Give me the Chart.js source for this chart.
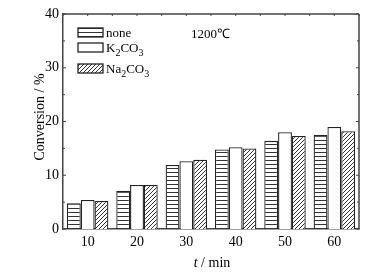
<!DOCTYPE html>
<html>
<head>
<meta charset="utf-8">
<script src="https://cdn.jsdelivr.net/npm/chart.js@4"></script>
<style>
  html, body { margin: 0; padding: 0; background: #fff; }
  #wrap { width: 386px; height: 275px; }
</style>
</head>
<body>
<div id="wrap"><canvas id="g_conv" width="386" height="275"></canvas></div>
<script>
// donnees
const times = ['10', '20', '30', '40', '50', '60'];
const noneVals = [4.8, 7.1, 11.9, 14.8, 16.4, 17.5];
const k2co3Vals = [5.4, 8.2, 12.6, 15.2, 18.0, 19.0];
const na2co3Vals = [5.2, 8.2, 12.9, 15.0, 17.3, 18.2];
const yTicks = [0, 10, 20, 30, 40];

const FONT = '"Liberation Serif", "Times New Roman", serif';

// motif rayures horizontales
function stripes() {
    const c = document.createElement('canvas');
    c.width = 4; c.height = 4;
    const g = c.getContext('2d');
    g.fillStyle = '#fff';
    g.fillRect(0, 0, 4, 4);
    g.fillStyle = '#333';
    g.fillRect(0, 0, 4, 1);
    return g.createPattern(c, 'repeat');
}
// motif hachures diagonales
function hatch() {
    const c = document.createElement('canvas');
    c.width = 4; c.height = 4;
    const g = c.getContext('2d');
    g.fillStyle = '#fff';
    g.fillRect(0, 0, 4, 4);
    g.strokeStyle = '#333';
    g.lineWidth = 1;
    g.beginPath();
    g.moveTo(-1, 5); g.lineTo(5, -1);
    g.moveTo(-1, 1); g.lineTo(1, -1);
    g.moveTo(3, 5); g.lineTo(5, 3);
    g.stroke();
    return g.createPattern(c, 'repeat');
}

const pStripes = stripes();
const pHatch = hatch();

// texte avec indices (ex: K2CO3)
function subText(ctx, parts, x, y) {
    parts.forEach(function(p) {
        if (p.sub) {
            ctx.font = '10px ' + FONT;
            ctx.fillText(p.t, x, y + 4);
        } else {
            ctx.font = '13px ' + FONT;
            ctx.fillText(p.t, x, y);
        }
        x += ctx.measureText(p.t).width;
    });
}

const decor = {
    id: 'decor',
    afterDraw(chart) {
        const ctx = chart.ctx;
        const a = chart.chartArea;
        const ys = chart.scales.y;
        ctx.save();
        // cadre
        ctx.strokeStyle = '#444';
        ctx.lineWidth = 1.5;
        ctx.beginPath();
        ctx.moveTo(a.left, a.top); ctx.lineTo(a.right, a.top);
        ctx.moveTo(a.right, a.top); ctx.lineTo(a.right, a.bottom);
        ctx.stroke();
        // graduations vers l'interieur
        ctx.lineWidth = 1;
        ctx.beginPath();
        for (let v = 0; v <= 40; v += 5) {
            const py = ys.getPixelForValue(v);
            const len = v % 10 === 0 ? 3 : 2;
            ctx.moveTo(a.left, py); ctx.lineTo(a.left + len, py);
            ctx.moveTo(a.right, py); ctx.lineTo(a.right - len, py);
        }
        for (let i = 0; i <= times.length * 2; i++) {
            const px = a.left + (a.right - a.left) * i / (times.length * 2);
            ctx.moveTo(px, a.top); ctx.lineTo(px, a.top + 2);
        }
        ctx.stroke();

        // legende
        const items = [
            { fill: pStripes, y: 28, parts: [{ t: 'none' }] },
            { fill: '#fff', y: 43, parts: [{ t: 'K' }, { t: '2', sub: true }, { t: 'CO' }, { t: '3', sub: true }] },
            { fill: pHatch, y: 64, parts: [{ t: 'Na' }, { t: '2', sub: true }, { t: 'CO' }, { t: '3', sub: true }] }
        ];
        ctx.textBaseline = 'alphabetic';
        ctx.textAlign = 'left';
        items.forEach(function(it) {
            ctx.fillStyle = it.fill;
            ctx.fillRect(78, it.y, 25, 9);
            ctx.strokeStyle = '#222';
            ctx.lineWidth = 1.3;
            ctx.strokeRect(78, it.y, 25, 9);
            ctx.fillStyle = '#000';
            subText(ctx, it.parts, 106, it.y + 9);
        });

        ctx.font = '13px ' + FONT;
        ctx.fillText('1200\u2103', 191, 38);

        // titre axe x
        ctx.font = 'italic 14px ' + FONT;
        const tW = ctx.measureText('t').width;
        ctx.font = '14px ' + FONT;
        const rW = ctx.measureText(' / min').width;
        let sx = 212 - (tW + rW) / 2;
        ctx.font = 'italic 14px ' + FONT;
        ctx.fillText('t', sx, 267);
        ctx.font = '14px ' + FONT;
        ctx.fillText(' / min', sx + tW, 267);

        // titre axe y
        ctx.translate(44, 117);
        ctx.rotate(-Math.PI / 2);
        ctx.textAlign = 'center';
        ctx.font = '14px ' + FONT;
        ctx.fillText('Conversion / %', 0, 0);
        ctx.restore();
    }
};

const ctx = document.getElementById('g_conv').getContext('2d');
const conData = {
    labels: times,
    datasets: [
        { label: 'none', data: noneVals, backgroundColor: pStripes },
        { label: 'K2CO3', data: k2co3Vals, backgroundColor: '#fff' },
        { label: 'Na2CO3', data: na2co3Vals, backgroundColor: pHatch }
    ].map(function(d) {
        d.borderColor = '#222';
        d.borderWidth = 1.3;
        d.barPercentage = 1;
        d.categoryPercentage = 0.84;
        return d;
    })
};
const options = {
    responsive: false,
    devicePixelRatio: 1,
    animation: false,
    layout: { padding: { top: 14, right: 27, left: 0, bottom: 0 } },
    plugins: { legend: { display: false }, tooltip: { enabled: false } },
    scales: {
        x: {
            grid: { display: false, drawTicks: false, tickLength: 0 },
            border: { color: '#444', width: 1.5 },
            ticks: { color: '#000', font: { family: FONT, size: 14 }, padding: 5 },
            afterFit: function(s) { s.height = 46; }
        },
        y: {
            min: 0, max: 40,
            grid: { display: false, drawTicks: false, tickLength: 0 },
            border: { color: '#444', width: 1.5 },
            afterBuildTicks: function(s) { s.ticks = yTicks.map(function(v) { return { value: v }; }); },
            ticks: { color: '#000', font: { family: FONT, size: 14 }, padding: 4 },
            afterFit: function(s) { s.width = 63; }
        }
    }
};
const config = { type: 'bar', data: conData, options: options, plugins: [decor] };
const convChart = new Chart(ctx, config);
</script>
</body>
</html>
